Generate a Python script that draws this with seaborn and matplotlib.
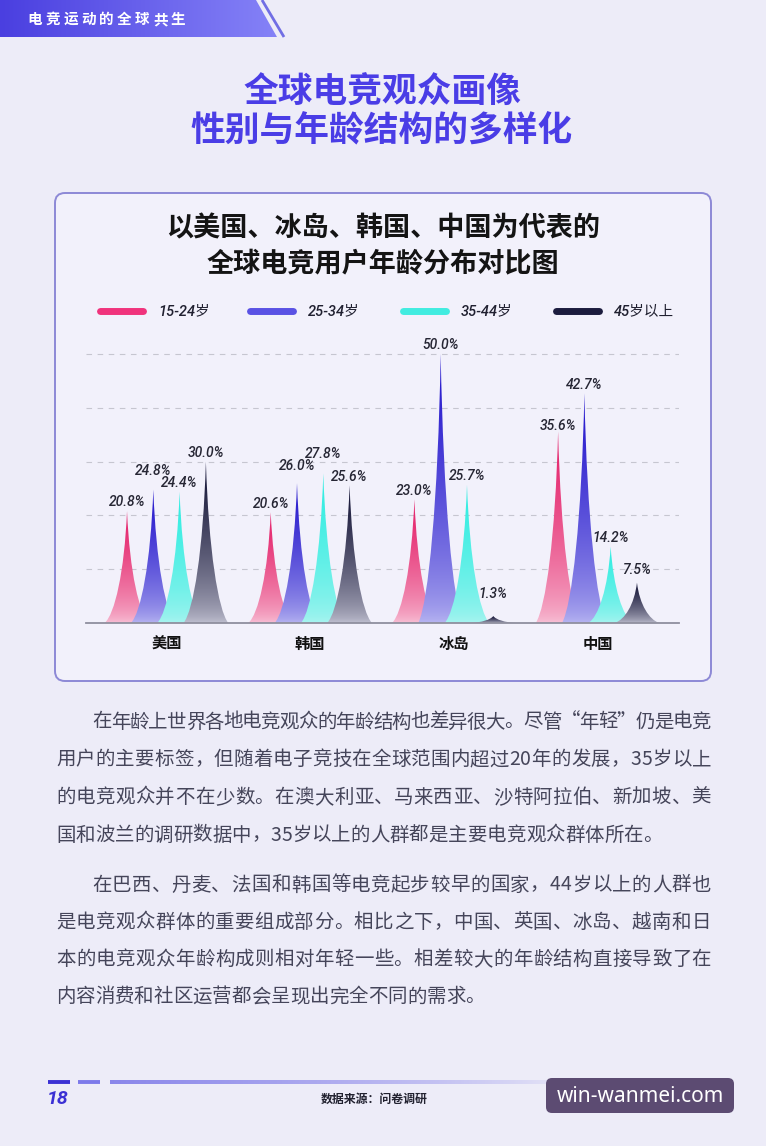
import numpy as np
import pandas as pd
import matplotlib
matplotlib.use("Agg")
import matplotlib.pyplot as plt
import seaborn as sns
from matplotlib.path import Path
from matplotlib.patches import PathPatch, FancyBboxPatch, Polygon
from matplotlib.colors import to_rgb
from matplotlib.font_manager import FontProperties

# ---------------- data ----------------
countries = ["美国", "韩国", "冰岛", "中国"]
age_groups = ["15-24岁", "25-34岁", "35-44岁", "45岁以上"]
share_15_24 = [20.8, 20.6, 23.0, 35.6]
share_25_34 = [24.8, 26.0, 50.0, 42.7]
share_35_44 = [24.4, 27.8, 25.7, 14.2]
share_45_up = [30.0, 25.6, 1.3, 7.5]
grid_values = [10, 20, 30, 40, 50]

header_text = "电竞运动的全球共生"
page_title = ["全球电竞观众画像", "性别与年龄结构的多样化"]
chart_title = ["以美国、冰岛、韩国、中国为代表的", "全球电竞用户年龄分布对比图"]
paragraph_1 = [
    "在年龄上世界各地电竞观众的年龄结构也差异很大。尽管“年轻”仍是电竞",
    "用户的主要标签，但随着电子竞技在全球范围内超过20年的发展，35岁以上",
    "的电竞观众并不在少数。在澳大利亚、马来西亚、沙特阿拉伯、新加坡、美",
    "国和波兰的调研数据中，35岁以上的人群都是主要电竞观众群体所在。",
]
paragraph_2 = [
    "在巴西、丹麦、法国和韩国等电竞起步较早的国家，44岁以上的人群也",
    "是电竞观众群体的重要组成部分。相比之下，中国、英国、冰岛、越南和日",
    "本的电竞观众年龄构成则相对年轻一些。相差较大的年龄结构直接导致了在",
    "内容消费和社区运营都会呈现出完全不同的需求。",
]
page_number = "18"
source_text = "数据来源：问卷调研"
watermark = "win-wanmei.com"

# ---------------- style ----------------
top_colors = ["#e41e68", "#2214cc", "#2cede1", "#121234"]
bottom_colors = ["#f8c4d8", "#bab8f2", "#acf4f0", "#c4c4d4"]
legend_colors = ["#f0337c", "#5a52e4", "#42ece0", "#1c1c3e"]
# extra lift (px) of value labels, per age group then per country (designer nudges)
label_lift = [[0, 0, 0, -3], [10, 8, 0, 0], [0, 11, 0, 0], [0, 0, 13, 4]]
CJK = ["Noto Sans CJK SC", "DejaVu Sans"]
LAT = ["Roboto", "Noto Sans CJK SC", "DejaVu Sans"]

sns.set_style("white")
plt.rcParams["font.family"] = CJK

W, H, DPI = 766, 1146, 100
fig = plt.figure(figsize=(W / DPI, H / DPI), dpi=DPI)
fig.patch.set_facecolor("#edecf8")

# background / decoration axes in pixel coordinates
bg = fig.add_axes([0, 0, 1, 1])
bg.set_xlim(0, W)
bg.set_ylim(H, 0)
bg.axis("off")
bg.set_zorder(0)

# header banner
banner = Polygon([(0, 0), (256, 0), (277, 37), (0, 37)], closed=True,
                 transform=bg.transData, facecolor="none", edgecolor="none")
g = np.linspace(0, 1, 256)
c0, c1 = np.array(to_rgb("#4a3fe0")), np.array(to_rgb("#8582f7"))
img = c0[None, None, :] * (1 - g)[None, :, None] + c1[None, None, :] * g[None, :, None]
im = bg.imshow(img, extent=[0, 277, 37, 0], aspect="auto", zorder=1)
im.set_clip_path(banner)
bg.plot([262, 284], [0, 37], color="#716ee4", lw=2.0, solid_capstyle="butt", zorder=1)
for i, ch in enumerate(header_text):
    bg.text(35 + i * 17.9, 19, ch, color="white", fontsize=10.5, fontweight="bold",
            ha="center", va="center", family=CJK, zorder=2)

# page title
for i, line in enumerate(page_title):
    bg.text(382, 92 + i * 39, line, color="#4a3de6", fontsize=25, fontweight="bold",
            ha="center", va="center", family=CJK, zorder=2)

# card
card = FancyBboxPatch((55, 193), 656, 488, boxstyle="round,pad=0,rounding_size=10",
                      facecolor="#f2f1fb", edgecolor="#8d89d6", lw=1.4, zorder=1)
bg.add_patch(card)
for i, line in enumerate(chart_title):
    bg.text(383, 228 + i * 35, line, color="#141414", fontsize=19.5, fontweight="bold",
            ha="center", va="center", family=CJK, zorder=2)

# legend
leg_x = [96, 246, 399, 552]
for k, name in enumerate(age_groups):
    bg.plot([leg_x[k] + 3.5, leg_x[k] + 50 - 3.5], [311, 311], color=legend_colors[k],
            lw=5, solid_capstyle="round", zorder=3)
    bg.text(leg_x[k] + 62, 311, name, fontsize=10.5, style="italic", fontweight="medium",
            color="#202030", ha="left", va="center", family=LAT, zorder=3)

# ---------------- chart ----------------
df = pd.DataFrame({
    "country": np.repeat(countries, len(age_groups)),
    "age": age_groups * len(countries),
    "share": np.column_stack([share_15_24, share_25_34, share_35_44, share_45_up]).ravel(),
})

ax = fig.add_axes([86 / W, 1 - 623 / H, 593 / W, 312 / H])
ax.set_zorder(2)
ax.patch.set_alpha(0)
sns.barplot(data=df, x="country", y="share", hue="age", order=countries,
            hue_order=age_groups, width=0.732, errorbar=None, legend=False, ax=ax)

ax.set_xlim(-0.56, 3.567)
ax.set_ylim(0, 58)


def spike_path(xc, h, hw):
    # right flank: base corner -> tip (normalised half-width, height), mirrored for left
    right = np.array([[1.0, 0.0], [0.55, 0.08], [0.12, 0.45], [0.0, 1.0]])
    left = np.array([[-0.12, 0.45], [-0.55, 0.08], [-1.0, 0.0]])
    pts = np.vstack([[-1.0, 0.0], right, left, [-1.0, 0.0]])
    xs = xc + pts[:, 0] * hw
    ys = pts[:, 1] * h
    codes = [Path.MOVETO, Path.LINETO, Path.CURVE4, Path.CURVE4, Path.CURVE4,
             Path.CURVE4, Path.CURVE4, Path.CURVE4, Path.CLOSEPOLY]
    return Path(np.column_stack([xs, ys]), codes)


ramp = np.linspace(0, 1, 256) ** 0.6
for k, cont in enumerate(ax.containers):
    top = np.array(to_rgb(top_colors[k]))
    bot = np.array(to_rgb(bottom_colors[k]))
    grad = (bot[None, :] * (1 - ramp)[:, None] + top[None, :] * ramp[:, None])[:, None, :]
    for j, bar in enumerate(cont):
        bar.set_visible(False)
        xc = bar.get_x() + bar.get_width() / 2
        h = bar.get_height()
        hw = bar.get_width() * 0.85
        p = PathPatch(spike_path(xc, h, hw), transform=ax.transData,
                      facecolor="none", edgecolor="none")
        sim = ax.imshow(grad, extent=[xc - hw, xc + hw, 0, h], origin="lower",
                        aspect="auto", zorder=2 + k * 0.1, interpolation="bilinear")
        sim.set_clip_path(p)
        ax.annotate(f"{h:.1f}%", (xc, h), xytext=(0, 1.2 + label_lift[k][j] * 0.72),
                    textcoords="offset points", ha="center", va="bottom", fontsize=10,
                    style="italic", fontweight="medium", color="#262634", family=LAT,
                    zorder=5)

ax.set_xlim(-0.56, 3.567)
ax.set_ylim(0, 58)
ax.set_yticks(grid_values)
ax.yaxis.grid(True, linestyle=(0, (5, 5)), color="#c6c6d0", lw=0.8)
ax.xaxis.grid(False)
ax.set_axisbelow(True)
ax.tick_params(axis="y", length=0, labelleft=False)
ax.tick_params(axis="x", length=0, pad=9)
for lab in ax.get_xticklabels():
    lab.set_fontproperties(FontProperties(family=CJK, size=11, weight="bold"))
    lab.set_color("#111111")
ax.set_xlabel("")
ax.set_ylabel("")
for s in ["top", "left", "right"]:
    ax.spines[s].set_visible(False)
ax.spines["bottom"].set_color("#8f8f9e")
ax.spines["bottom"].set_linewidth(1.3)

# ---------------- body text (justified) ----------------
renderer = fig.canvas.get_renderer()
body_prop = FontProperties(family=CJK, size=14)


def draw_paragraph(lines, y0, step):
    for i, line in enumerate(lines):
        x0 = 92 if i == 0 else 56
        right = 711
        widths = [renderer.get_text_width_height_descent(c, body_prop, ismath=False)[0]
                  for c in line]
        natural = sum(widths)
        last = i == len(lines) - 1
        gap = 0 if last else (right - x0 - natural) / max(len(line) - 1, 1)
        x = x0
        for c, w in zip(line, widths):
            bg.text(x, y0 + i * step, c, fontproperties=body_prop, color="#45455a",
                    ha="left", va="center", zorder=2)
            x += w + gap


draw_paragraph(paragraph_1, 722, 37.7)
draw_paragraph(paragraph_2, 885, 37.3)

# ---------------- footer ----------------
bg.plot([48, 70], [1082, 1082], color="#3b30d4", lw=2.8, solid_capstyle="butt", zorder=2)
bg.plot([78, 100], [1082, 1082], color="#7d7aea", lw=2.8, solid_capstyle="butt", zorder=2)
fade = np.zeros((1, 256, 4))
fade[..., :3] = to_rgb("#8a86ea")
fade[..., 3] = np.linspace(1, 0, 256) ** 0.7
bg.imshow(fade, extent=[110, 570, 1084, 1080], aspect="auto", zorder=2)
bg.text(47, 1099, page_number, color="#3b30d4", fontsize=14, fontweight="bold",
        style="italic", ha="left", va="center", family=LAT, zorder=2)
bg.text(374, 1099, source_text, color="#222230", fontsize=8.6, fontweight="bold",
        ha="center", va="center", family=CJK, zorder=2)

wm = FancyBboxPatch((546, 1078), 188, 35, boxstyle="round,pad=0,rounding_size=6",
                    facecolor="#5c4b72", edgecolor="none", zorder=3)
bg.add_patch(wm)
bg.text(640, 1096, watermark, color="white", fontsize=15, ha="center", va="center",
        family=["Noto Sans", "DejaVu Sans"], zorder=4)

bg.set_xlim(0, W)
bg.set_ylim(H, 0)

fig.savefig("out.png", dpi=DPI, facecolor=fig.get_facecolor())
